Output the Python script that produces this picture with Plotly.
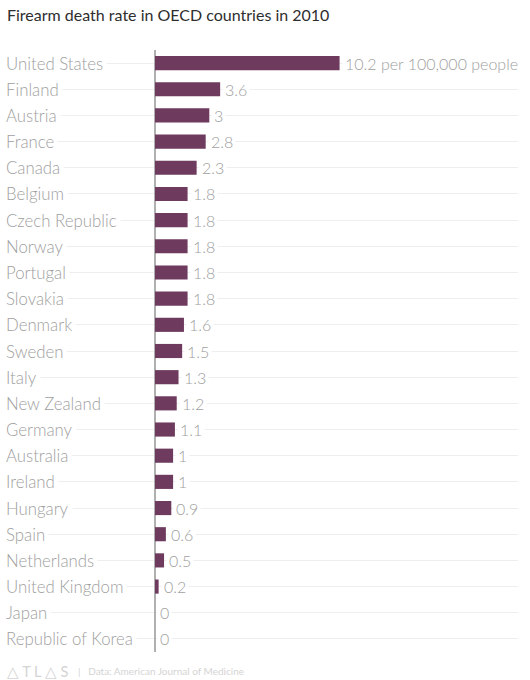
import plotly.graph_objects as go

countries = ["United States", "Finland", "Austria", "France", "Canada", "Belgium",
             "Czech Republic", "Norway", "Portugal", "Slovakia", "Denmark", "Sweden",
             "Italy", "New Zealand", "Germany", "Australia", "Ireland", "Hungary",
             "Spain", "Netherlands", "United Kingdom", "Japan", "Republic of Korea"]
rates = [10.2, 3.6, 3, 2.8, 2.3, 1.8, 1.8, 1.8, 1.8, 1.8, 1.6, 1.5,
         1.3, 1.2, 1.1, 1, 1, 0.9, 0.6, 0.5, 0.2, 0, 0]
value_labels = ["10.2 per 100,000 people"] + [format(v, "g") for v in rates[1:]]

BAR = "#6e3a5e"
GREY = "#a0a0a0"
FONT = "Lato"

fig = go.Figure()
fig.add_trace(go.Bar(x=rates, y=countries, orientation="h",
                     marker=dict(color=BAR, line=dict(width=0)),
                     width=0.54, hoverinfo="skip"))

# country names on the left, white box hides the gridline behind the text
for c in countries:
    fig.add_annotation(x=0, xref="paper", y=c, yref="y", text=c,
                       xanchor="left", showarrow=False, bgcolor="white",
                       borderpad=3, xshift=-3,
                       font=dict(family=FONT, size=16.8, color=GREY, weight=300))

for c, v, t in zip(countries, rates, value_labels):
    fig.add_annotation(x=v, y=c, text=t, xanchor="left", showarrow=False,
                       bgcolor="white", borderpad=2, xshift=2,
                       font=dict(family=FONT, size=16, color=GREY, weight=300))

fig.add_annotation(x=0, xref="paper", y=1, yref="paper", yshift=36,
                   text="Firearm death rate in OECD countries in 2010",
                   xanchor="left", yanchor="middle", showarrow=False,
                   font=dict(family=FONT, size=16, color="#2e2e2e"))
fig.add_annotation(x=0, xref="paper", y=0, yref="paper", yshift=-19,
                   text="\u25b3 T L \u25b3 S", xanchor="left", yanchor="middle",
                   showarrow=False, font=dict(family=FONT, size=14.5, color="#d4d4d4"))
fig.add_annotation(x=0, xref="paper", y=0, yref="paper", yshift=-19, xshift=71,
                   text="|   Data: American Journal of Medicine", xanchor="left",
                   yanchor="middle", showarrow=False,
                   font=dict(family=FONT, size=10, color="#d4d4d4"))

fig.update_xaxes(range=[-8.29, 20.06], showgrid=False, zeroline=True,
                 zerolinecolor="#b0b0b0", zerolinewidth=1.5,
                 showticklabels=False, fixedrange=True)
fig.update_yaxes(autorange=False, range=[len(countries) - 0.5, -0.5],
                 showgrid=True, gridcolor="#eeeeee", gridwidth=1,
                 showticklabels=False, fixedrange=True)

fig.update_layout(width=530, height=680, margin=dict(l=5, r=12, t=50, b=28),
                  paper_bgcolor="white", plot_bgcolor="white",
                  showlegend=False, bargap=0.46)

fig.write_html("out.html", config={"displayModeBar": False},
               post_script="document.body.style.margin='0px';")
